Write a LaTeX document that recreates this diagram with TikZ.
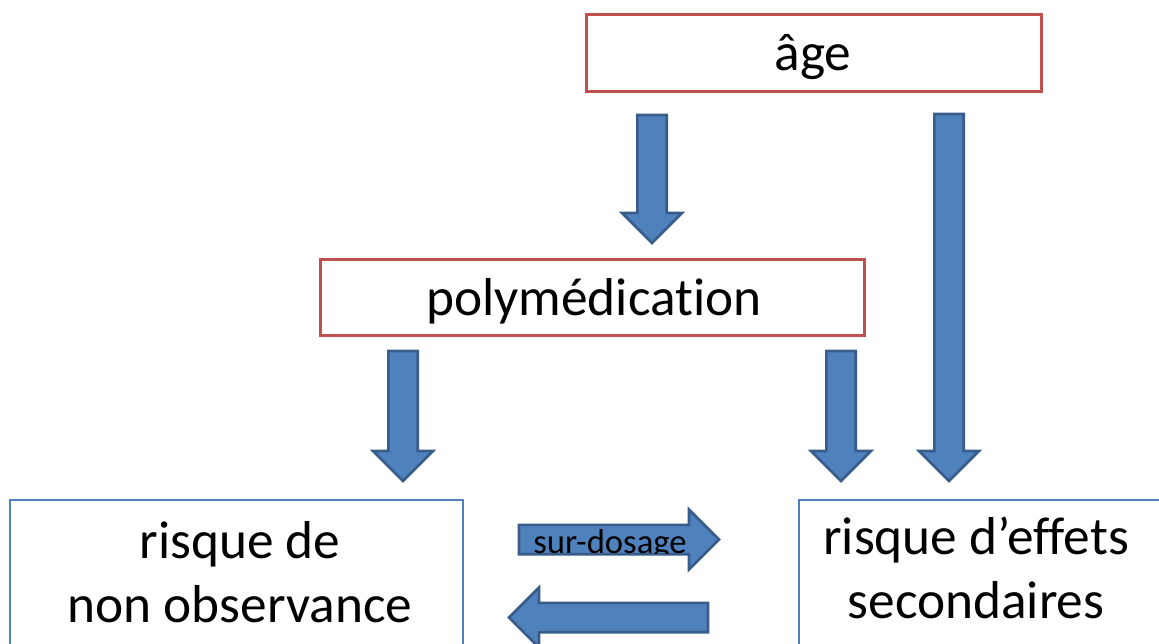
\documentclass[tikz,border=0pt]{standalone}
\usepackage{fontspec}
\setmainfont{Carlito}[Ligatures=NoCommon]
\usetikzlibrary{calc}

\definecolor{boxred}{HTML}{C0504D}
\definecolor{boxblue}{HTML}{4F81BD}
\definecolor{arrowfill}{HTML}{4F81BD}
\definecolor{arrowline}{HTML}{385D8A}

% block arrow from #1 to #2
\newcommand{\fatarrow}[2]{%
  \path ($(#2)!22.5pt!(#1)$) coordinate (hb);
  \draw [fatarrow] ($(#1)!11pt!90:(#2)$) -- ($(hb)!11pt!90:(#2)$) -- ($(hb)!22.5pt!90:(#2)$) -- (#2)
    -- ($(hb)!22.5pt!-90:(#2)$) -- ($(hb)!11pt!-90:(#2)$) -- ($(#1)!11pt!-90:(#2)$) -- cycle;}

\begin{document}
\begin{tikzpicture}[x=0.75pt,y=0.75pt,yscale=-1,xscale=1,
  redbox/.style={draw=boxred, line width=2pt, rectangle, inner sep=0pt},
  bluebox/.style={draw=boxblue, line width=1.5pt, rectangle, inner sep=0pt},
  bigtext/.style={font=\fontsize{40}{48}\selectfont, inner sep=0pt, anchor=base, align=center},
  smalltext/.style={font=\fontsize{26}{30}\selectfont, inner sep=0pt, anchor=base},
  fatarrow/.style={fill=arrowfill, draw=arrowline, line width=2pt, line join=miter}]
\useasboundingbox (0,0) rectangle (1159,643);
\clip (0,0) rectangle (1159,643);

% Shape: Rectangle
\node [redbox, minimum width=341.25pt, minimum height=57.75pt] (agebox) at (814,53) {};
% Text Node
\node [bigtext] (agetext) at (813,70) {âge};

% Shape: Rectangle
\node [redbox, minimum width=408pt, minimum height=57pt] (polybox) at (592.5,297.5) {};
% Text Node
\node [bigtext] (polytext) at (594,315) {polymédication};

% Shape: Rectangle
\node [bluebox, minimum width=339.75pt, minimum height=120pt] (nonobsbox) at (236.5,580) {};
% Text Node (baseline of last line)
\node [bigtext] (nonobstext) at (240,622) {risque de\\non observance};

% Shape: Rectangle
\node [bluebox, minimum width=339.75pt, minimum height=120pt] (effetsbox) at (1025.5,580) {};
% Text Node (baseline of last line)
\node [bigtext] (effetstext) at (976,618) {risque d’effets\\secondaires};

% Arrows
\coordinate (a1s) at (652,115);
\coordinate (a1e) at (652,243);
\coordinate (a2s) at (949,114);
\coordinate (a2e) at (949,481);
\coordinate (a3s) at (403,351);
\coordinate (a3e) at (403,481);
\coordinate (a4s) at (841,351);
\coordinate (a4e) at (841,481);
\coordinate (a5s) at (519,539.5);
\coordinate (a5e) at (719,539.5);
\coordinate (a6s) at (708,617.5);
\coordinate (a6e) at (509,617.5);

\fatarrow{a1s}{a1e}
\fatarrow{a2s}{a2e}
\fatarrow{a3s}{a3e}
\fatarrow{a4s}{a4e}
\fatarrow{a5s}{a5e}
\fatarrow{a6s}{a6e}

% Text Node
\begin{scope}
\clip (519,524) rectangle (690,553.5);
\node [smalltext] (dosetext) at (610,553) {sur-dosage};
\end{scope}

\end{tikzpicture}
\end{document}
